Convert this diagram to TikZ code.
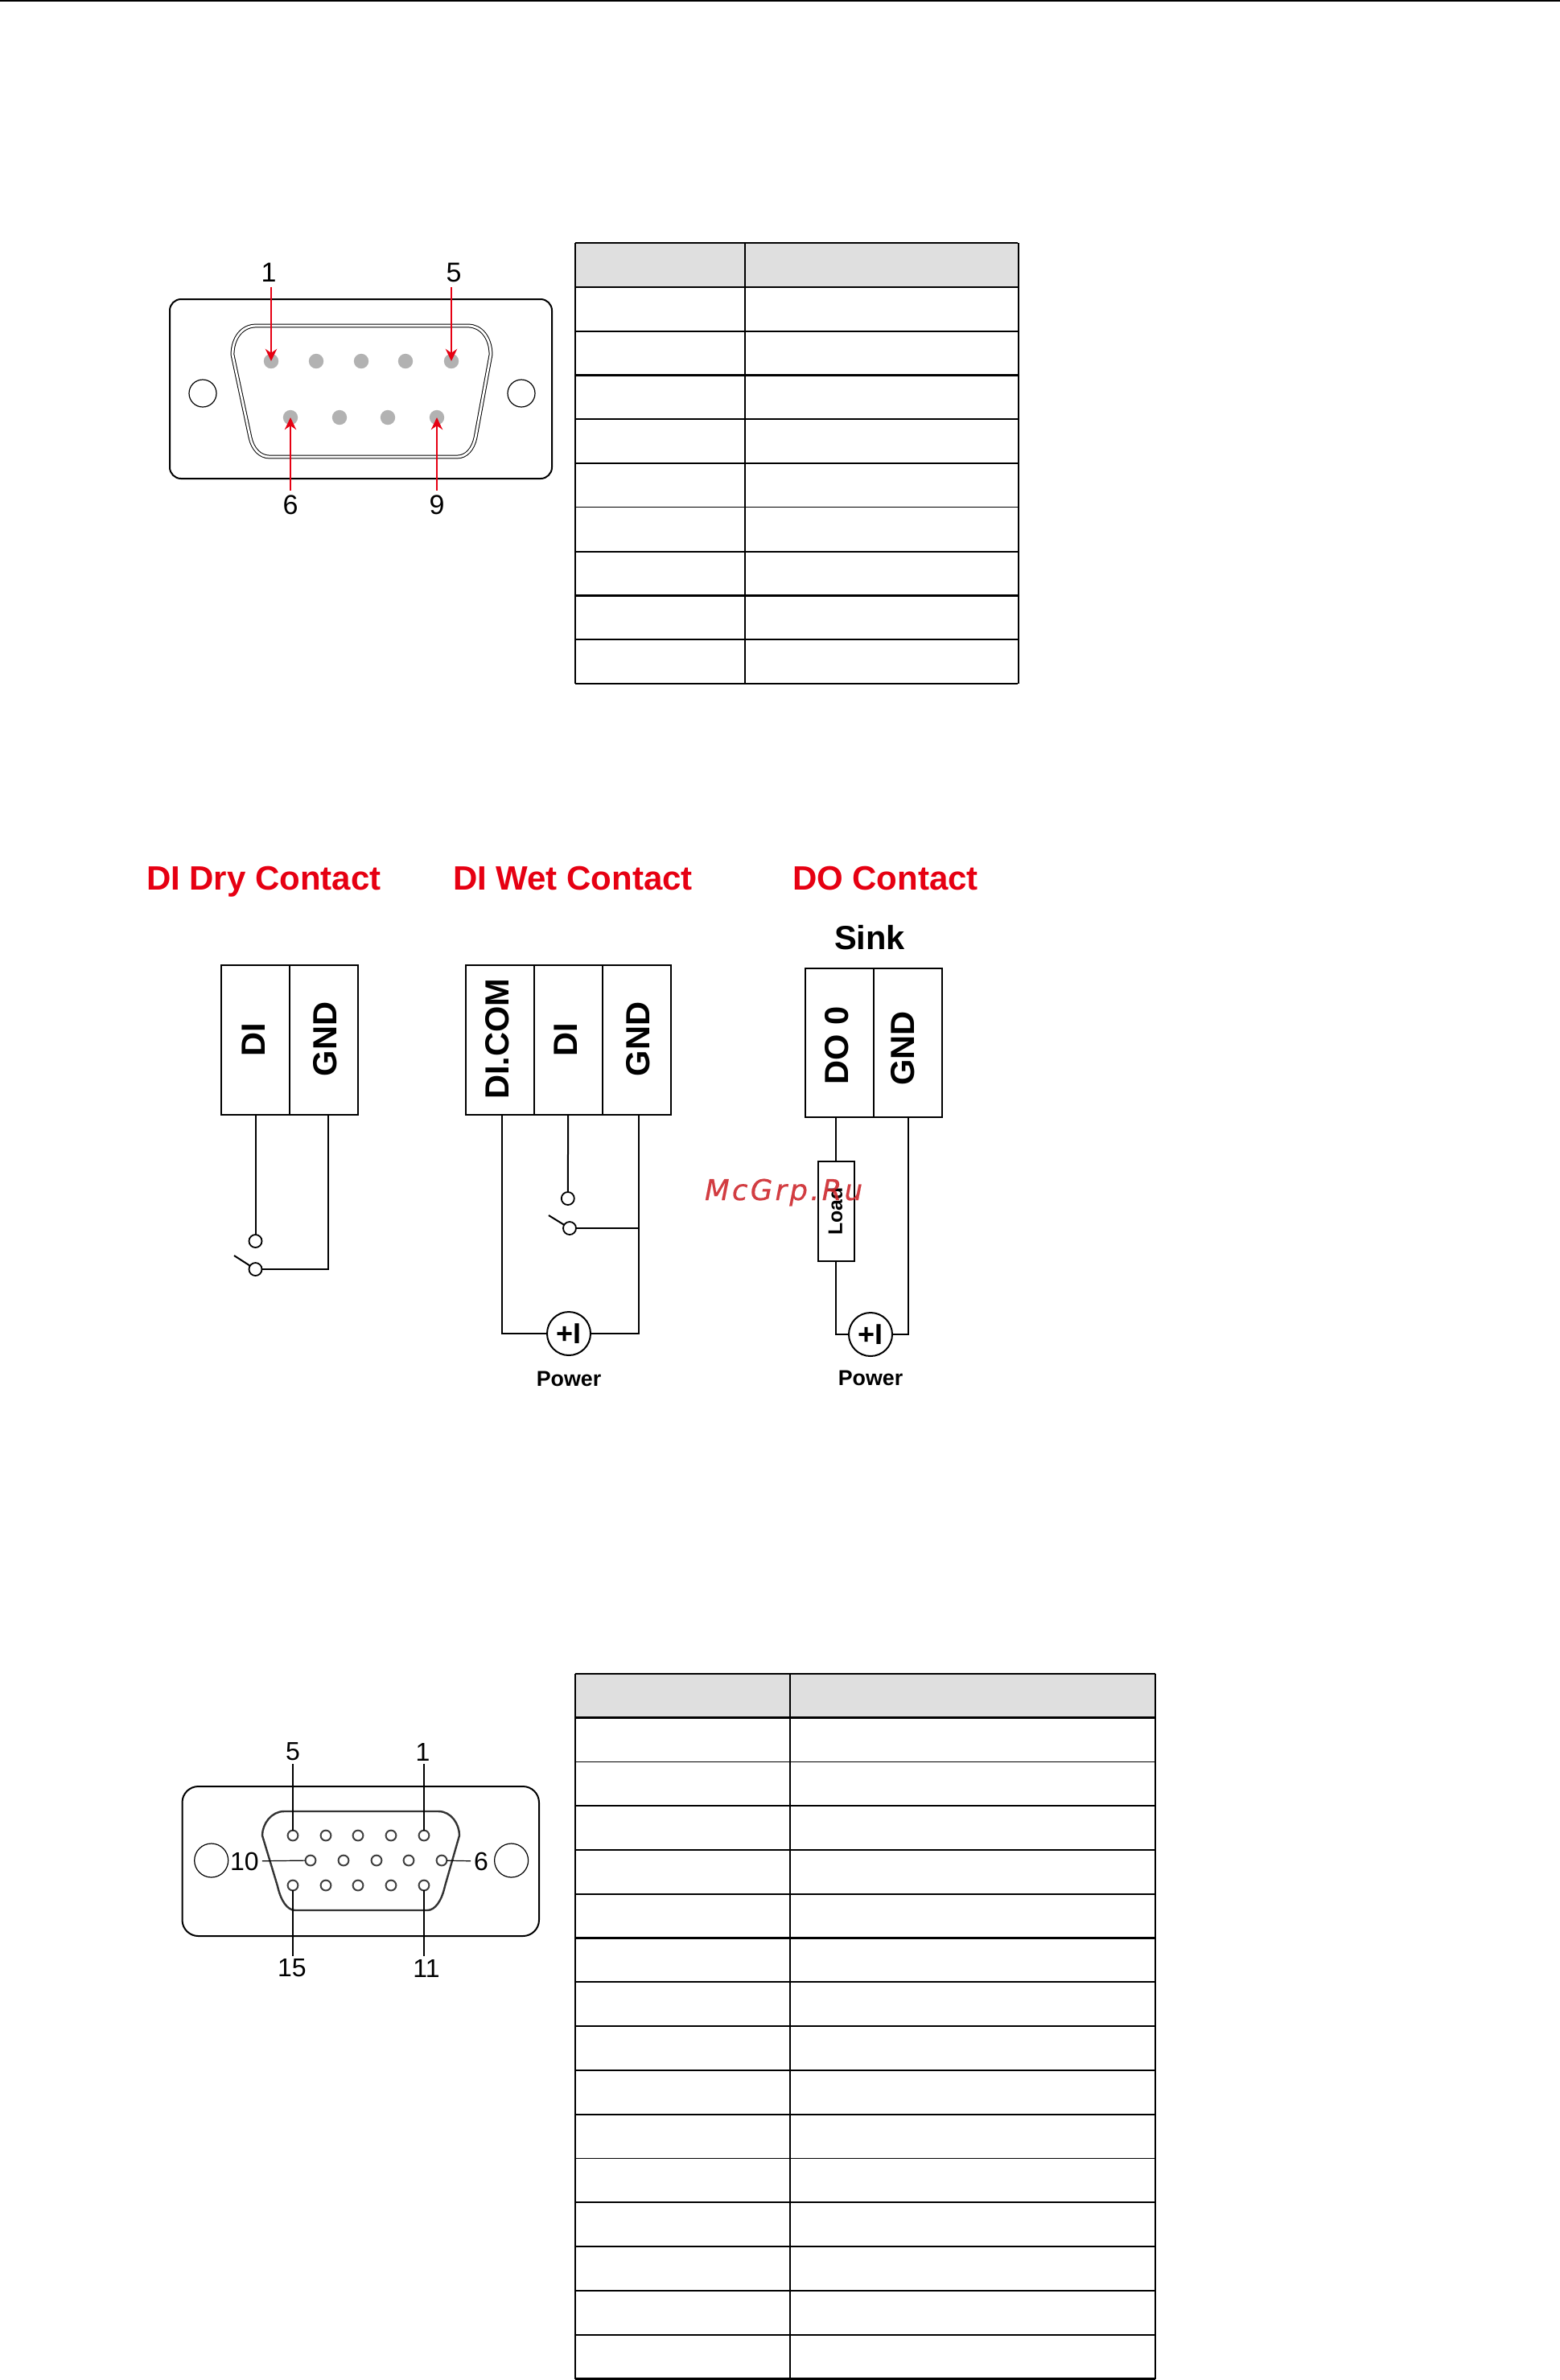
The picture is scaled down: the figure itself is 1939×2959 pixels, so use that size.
\documentclass[tikz,border=0pt]{standalone}
\usepackage{xcolor}
\usepackage{fontspec}
\setmainfont{Liberation Sans}
\newfontfamily\markfont[LetterSpace=9,FakeBold=.5]{DejaVu Sans}
\usetikzlibrary{positioning,shapes,arrows.meta}
\definecolor{titlered}{RGB}{230,0,18}
\definecolor{markred}{RGB}{205,40,45}
\definecolor{headgray}{RGB}{223,223,223}
\definecolor{pingray}{RGB}{178,178,178}

\begin{document}
\begin{tikzpicture}[x=.25pt,y=-.25pt,line width=.5pt,
			every node/.style = {inner sep=0pt, outer sep=0pt},
			tabline/.style = {line width=.55pt},
			thinline/.style = {line width=.3pt},
			plate/.style = {line width=.5pt, rounded corners=3.5pt},
			pinlabel/.style = {font=\fontsize{8.5}{10}\selectfont},
			vgalabel/.style = {font=\fontsize{8}{10}\selectfont},
			dbpin/.style = {shape=circle, fill=pingray, minimum size=4.6pt},
			vgapin/.style = {shape=circle, draw=black!75, line width=.5pt, minimum size=3.2pt},
			hole/.style = {shape=circle, draw, line width=.3pt},
			redarrow/.style = {draw=titlered, line width=.4pt, shorten <=1.5pt, -{Stealth[length=3.8pt,width=3.6pt]}},
			leader/.style = {line width=.3pt, shorten <=1pt},
			titletext/.style = {anchor=base west, text=titlered, font=\fontsize{10.5}{12}\selectfont\bfseries},
			termcell/.style = {shape=rectangle, draw, line width=.5pt, minimum width=21.25pt, minimum height=46.5pt},
			celltext/.style = {rotate=90, font=\fontsize{10.4}{12}\selectfont\bfseries},
			contactpt/.style = {shape=circle, draw, line width=.45pt, minimum size=4pt},
			supply/.style = {shape=circle, draw, line width=.5pt, minimum size=13.5pt,
				font=\fontsize{9}{10}\selectfont\bfseries},
			powertext/.style = {font=\fontsize{6.7}{8}\selectfont\bfseries}]
			\useasboundingbox (0,0) rectangle (1939,2959);
			\draw[line width=.6pt] (0,1) -- (1939,1);

			\draw[plate] (211,372) rectangle (686,595);
			\draw[double, line width=.25pt, double distance=.7pt]
				(318,405) -- (582,405) .. controls (598,405) and (610,420) .. (610,441)
				-- (591,544) .. controls (588,558) and (580,568) .. (568,568)
				-- (335,568) .. controls (323,568) and (314,558) .. (311,544)
				-- (289,441) .. controls (289,420) and (301,405) .. (318,405) -- cycle;
			\node[hole, minimum size=8.5pt] (dbHoleL) at (252,489) {};
			\node[hole, minimum size=8.5pt] (dbHoleR) at (648,489) {};
			\foreach \n/\x in {1/337,2/393,3/449,4/504,5/561}
				\node[dbpin] (db\n) at (\x,449) {};
			\foreach \n/\x in {6/361,7/422,8/482,9/543}
				\node[dbpin] (db\n) at (\x,519) {};
			\node[pinlabel] (dbLab1) at (334,339) {1};
			\node[pinlabel] (dbLab5) at (564,339) {5};
			\node[pinlabel] (dbLab6) at (361,628) {6};
			\node[pinlabel] (dbLab9) at (543,628) {9};
			\draw[redarrow] (db1 |- dbLab1.south) -- (db1.center);
			\draw[redarrow] (db5 |- dbLab5.south) -- (db5.center);
			\draw[redarrow] (db6 |- dbLab6.north) -- (db6.center);
			\draw[redarrow] (db9 |- dbLab9.north) -- (db9.center);

			\fill[headgray] (715,302) rectangle (1265,357);
			\foreach \n in {0,1,2,3,4,5,7,8,9,10}
				\draw[tabline] (715,{302+54.8*\n}) -- (1265,{302+54.8*\n});
			\draw[thinline] (715,{302+54.8*6}) -- (1265,{302+54.8*6});
			\foreach \x in {715,926,1266}
				\draw[tabline] (\x,302) -- (\x,850);

			\node[titletext] (dryTitle) at (182,1106) {DI Dry Contact};
			\node[titletext] (wetTitle) at (563,1106) {DI Wet Contact};
			\node[titletext] (doTitle) at (985,1106) {DO Contact};
			\node[font=\fontsize{10.4}{12}\selectfont\bfseries] (sinkTitle) at (1081,1166) {Sink};

			\node[termcell] (dryDI) at (317.5,1293) {};
			\node[termcell, right=0pt of dryDI] (dryGND) {};
			\node[celltext] (dryDItext) at (315,1292.5) {DI};
			\node[celltext] (dryGNDtext) at (404,1292) {GND};
			\node[contactpt] (dryOpen) at (317.5,1543) {};
			\node[contactpt] (dryClosed) at (317.5,1578) {};
			\coordinate (dryPin) at (408,1386);
			\coordinate (dryArm) at (291,1561);
			\draw (dryDI) -- (dryOpen);
			\draw (dryPin) |- (dryClosed);
			\draw (dryArm) -- (dryClosed);

			\node[termcell] (wetCOM) at (621.5,1293) {};
			\node[termcell, right=0pt of wetCOM] (wetDI) {};
			\node[termcell, right=0pt of wetDI] (wetGND) {};
			\node[celltext] (wetCOMtext) at (618,1291.5) {DI.COM};
			\node[celltext] (wetDItext) at (703,1292.5) {DI};
			\node[celltext] (wetGNDtext) at (793,1292) {GND};
			\node[contactpt] (wetOpen) at (705.8,1490) {};
			\node[contactpt] (wetClosed) at (708,1527) {};
			\node[supply] (wetSupply) at (707,1658) {+I};
			\node[powertext, below=5pt of wetSupply] (wetPower) {Power};
			\coordinate (wetPinA) at (624,1386);
			\coordinate (wetPinB) at (794,1386);
			\coordinate (wetArm) at (682,1511);
			\draw (wetDI) -- (wetOpen);
			\draw (wetPinA) |- (wetSupply);
			\draw (wetPinB) |- (wetSupply);
			\draw (wetClosed) -- (wetClosed -| wetPinB);
			\draw (wetArm) -- (wetClosed);

			\node[termcell, minimum height=46.25pt] (doDO) at (1043.8,1296) {};
			\node[termcell, minimum height=46.25pt, right=0pt of doDO] (doGND) {};
			\node[celltext] (doDOtext) at (1040,1299.5) {DO 0};
			\node[celltext] (doGNDtext) at (1122,1303.5) {GND};
			\node[shape=rectangle, draw, minimum width=11.25pt, minimum height=31pt] (doLoad) at (1039.2,1506) {};
			\node[rotate=90, font=\fontsize{6.2}{8}\selectfont\bfseries] (doLoadtext) at (1038,1506) {Load};
			\node[supply] (doSupply) at (1082,1659) {+I};
			\node[powertext, below=4.5pt of doSupply] (doPower) {Power};
			\coordinate (doPinA) at (1039.2,1388);
			\coordinate (doPinB) at (1129,1388);
			\draw (doPinA) -- (doLoad);
			\draw (doLoad) |- (doSupply);
			\draw (doPinB) |- (doSupply);

			\draw[plate, rounded corners=5pt] (226.5,2221) rectangle (670,2407);
			\draw[line width=.6pt, draw=black!80]
				(353,2252) -- (545,2252) .. controls (561,2252) and (571,2268) .. (571,2282)
				-- (553,2345) .. controls (549,2363) and (541,2375) .. (531,2375)
				-- (367,2375) .. controls (357,2375) and (349,2363) .. (345,2345)
				-- (326,2282) .. controls (326,2268) and (337,2252) .. (353,2252) -- cycle;
			\node[hole, minimum size=10.5pt] (vgaHoleL) at (262.7,2313) {};
			\node[hole, minimum size=10.5pt] (vgaHoleR) at (635.6,2313) {};
			\foreach \n/\x in {5/364,4/405,3/445,2/486,1/527}
				\node[vgapin] (vga\n) at (\x,2282) {};
			\foreach \n/\x in {10/386,9/427,8/468,7/508,6/549}
				\node[vgapin] (vga\n) at (\x,2313) {};
			\foreach \n/\x in {15/364,14/405,13/445,12/486,11/527}
				\node[vgapin] (vga\n) at (\x,2344) {};
			\node[vgalabel] (vgaLab5) at (364,2178) {5};
			\node[vgalabel] (vgaLab1) at (525.5,2178) {1};
			\node[vgalabel] (vgaLab15) at (363,2447) {15};
			\node[vgalabel] (vgaLab11) at (530,2447) {11};
			\node[vgalabel] (vgaLab10) at (304,2314) {10};
			\node[vgalabel] (vgaLab6) at (598,2314) {6};
			\draw[leader] (vga5 |- vgaLab5.south) -- (vga5);
			\draw[leader] (vga1 |- vgaLab1.south) -- (vga1);
			\draw[leader] (vga15 |- vgaLab15.north) -- (vga15);
			\draw[leader] (vga11 |- vgaLab11.north) -- (vga11);
			\draw[leader] (vgaLab10) -- (vga10);
			\draw[leader] (vgaLab6) -- (vga6);

			\fill[headgray] (715,2080.7) rectangle (1436,2135.5);
			\foreach \n in {0,1,3,4,5,6,7,8,9,10,12,13,14,15,16}
				\draw[tabline] (715,{2080.7+54.8*\n}) -- (1436,{2080.7+54.8*\n});
			\foreach \n in {2,11}
				\draw[thinline] (715,{2080.7+54.8*\n}) -- (1436,{2080.7+54.8*\n});
			\foreach \x in {715,982,1436}
				\draw[tabline] (\x,2080.7) -- (\x,2957.5);

			\node[anchor=base west, text=markred, opacity=.9,
				font=\fontsize{8.9}{10}\selectfont\markfont\itshape] (siteMark) at (876,1492) {McGrp.Ru};
			\end{tikzpicture}
\end{document}
